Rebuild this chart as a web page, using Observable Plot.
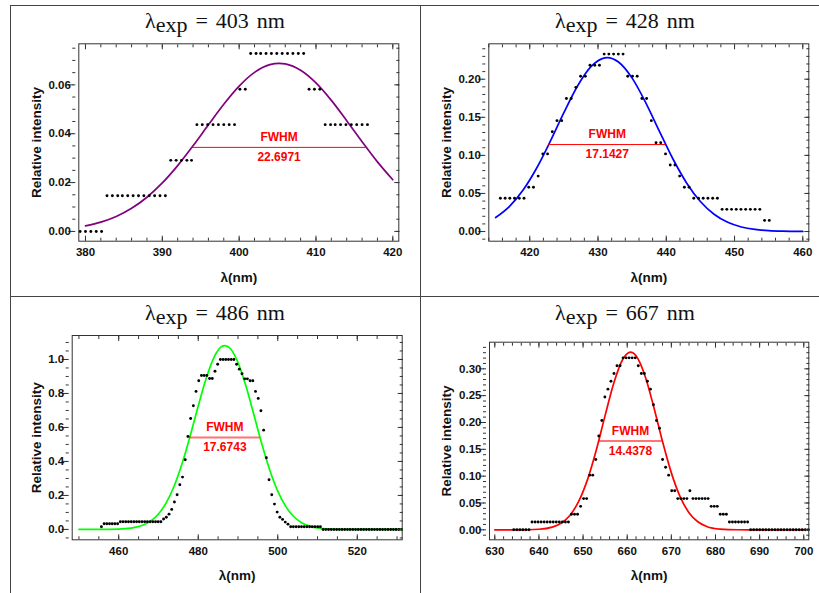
<!DOCTYPE html>
<html><head><meta charset="utf-8">
<script src="https://cdn.jsdelivr.net/npm/d3@7"></script>
<script src="https://cdn.jsdelivr.net/npm/@observablehq/plot@0.6"></script>
<style>
html,body{margin:0;padding:0;background:#fff;overflow:hidden;}
#root{position:relative;width:819px;height:593px;overflow:hidden;background:#fff;}
.cell{position:absolute;width:410px;}
.cell svg{position:absolute;left:0;top:0;}
.title{position:absolute;left:0;width:410px;text-align:center;font-family:"Liberation Serif","Times New Roman",serif;font-size:22px;color:#111;white-space:nowrap;line-height:1;z-index:2;}
.sub{position:relative;top:4px;}
.eq{margin:0 8px;}
.unit{margin-left:8px;}
.bline{position:absolute;background:#444;}
</style></head><body><div id="root"></div>
<script>
// ---------- data ----------
const titleWavelengths = ["403", "428", "486", "667"];
const fwhmValues = ["22.6971", "17.1427", "17.6743", "14.4378"];
const lineColors = ["#800080", "#0000ff", "#00ff00", "#ff0000"];

// Panel 1 (403 nm)
const p1DotX = [379.3,380.0,380.7,381.4,382.1,382.8,383.5,384.2,384.8,385.5,386.2,386.9,387.6,388.3,389.0,389.7,390.4,391.1,391.8,392.5,393.2,393.8,394.5,395.2,395.9,396.6,397.3,398.0,398.7,399.4,400.1,400.8,401.5,402.2,402.8,403.5,404.2,404.9,405.6,406.3,407.0,407.7,408.4,409.1,409.8,410.5,411.2,411.9,412.5,413.2,413.9,414.6,415.3,416.0,416.7];
const p1DotY = [0,0,0,0,0,
  0.0146,0.0146,0.0146,0.0146,0.0146,0.0146,0.0146,0.0146,0.0146,0.0146,0.0146,0.0146,
  0.0291,0.0291,0.0291,0.0291,0.0291,
  0.0437,0.0437,0.0437,0.0437,0.0437,0.0437,0.0437,0.0437,
  0.0582,0.0582,
  0.0728,0.0728,0.0728,0.0728,0.0728,0.0728,0.0728,0.0728,0.0728,0.0728,0.0728,
  0.0582,0.0582,0.0582,
  0.0437,0.0437,0.0437,0.0437,0.0437,0.0437,0.0437,0.0437,0.0437];
const p1CurveX = [380,382,384,386,388,390,392,394,396,398,400,402,404,405.2,406,408,410,412,414,416,418,420];
const p1CurveY = [0.00226,0.0038,0.00612,0.00946,0.0140,0.01984,0.02694,0.03503,0.04363,0.05205,0.05948,0.06511,0.06827,0.0688,0.06856,0.06596,0.06078,0.05364,0.04535,0.03673,0.02848,0.02116];
const p1Fwhm = {x1: 393.85, x2: 416.55, y: 0.0344};
const p1XTicks = [380, 390, 400, 410, 420];
const p1YTicks = [0, 0.02, 0.04, 0.06];

// Panel 2 (428 nm)
const p2DotX = [415.70,416.39,417.08,417.77,418.46,419.16,419.85,420.54,421.23,421.92,422.61,423.30,423.99,424.68,425.37,426.07,426.76,427.45,428.14,428.83,429.52,430.21,430.90,431.59,432.28,432.98,433.67,434.36,435.05,435.74,436.43,437.12,437.81,438.50,439.19,439.89,440.58,441.27,441.96,442.65,443.34,444.03,444.72,445.41,446.10,446.80,447.49,448.18,448.87,449.56,450.25,450.94,451.63,452.32,453.01,453.71,454.40,455.09];
const p2DotY = [0.0437,0.0437,0.0437,0.0437,0.0437,0.0437,
  0.0582,0.0582,0.0728,0.1019,0.1019,0.1310,0.1456,0.1456,0.1747,0.1747,0.1893,0.2038,0.2038,
  0.2184,0.2184,0.2184,0.2330,0.2330,0.2330,0.2330,0.2330,
  0.2038,0.2038,0.2038,0.1747,0.1747,0.1456,0.1165,0.1165,0.1019,0.0874,0.0874,0.0728,0.0582,0.0582,
  0.0437,0.0437,0.0437,0.0437,0.0437,0.0437,
  0.0291,0.0291,0.0291,0.0291,0.0291,0.0291,0.0291,0.0291,0.0291,
  0.0146,0.0146];
const p2CurveX = [415,417,419,421,423,425,427,429,431,431.35,433,435,437,439,441,443,445,447,449,451,453,455,457,460];
const p2CurveY = [0.01834,0.03273,0.05418,0.08314,0.1183,0.1561,0.1911,0.2168,0.2281,0.2284,0.2226,0.2014,0.1690,0.1315,0.09488,0.0635,0.03938,0.02266,0.01208,0.00598,0.00274,0.00117,0.00046,0.0001];
const p2Fwhm = {x1: 422.78, x2: 439.92, y: 0.1142};
const p2XTicks = [420, 430, 440, 450, 460];
const p2YTicks = [0, 0.05, 0.10, 0.15, 0.20];

// Panel 3 (486 nm)
const p3DotX = [455.65,456.33,457.01,457.69,458.37,459.05,459.73,460.41,461.09,461.77,462.45,463.13,463.81,464.49,465.17,465.85,466.53,467.21,467.89,468.57,469.25,469.93,470.61,471.29,471.97,472.65,473.33,474.01,474.69,475.37,476.05,476.73,477.41,478.09,478.77,479.45,480.13,480.81,481.49,482.17,482.85,483.53,484.21,484.89,485.57,486.25,486.93,487.61,488.29,488.97,489.65,490.33,491.01,491.69,492.37,493.05,493.73,494.41,495.09,495.77,496.45,497.13,497.81,498.49,499.17,499.85,500.53,501.21,501.89,502.57,503.25,503.93,504.61,505.29,505.97,506.65,507.33,508.01,508.69,509.37,510.05,510.73,511.41,512.09,512.77,513.45,514.13,514.81,515.49,516.17,516.85,517.53,518.21,518.89,519.57,520.25,520.93,521.61,522.29,522.97,523.65,524.33,525.01,525.69,526.37,527.05,527.73,528.41,529.09,529.77,530.45,531.13];
const p3DotY = [0.016,
  0.033,0.033,0.033,0.033,0.033,0.033,
  0.045,0.045,0.045,0.045,0.045,0.045,0.045,0.045,0.045,0.045,0.045,0.045,0.045,0.045,0.045,0.045,
  0.061,0.072,0.090,0.118,0.161,0.204,0.263,0.308,0.410,0.547,0.653,0.728,0.812,0.875,
  0.906,0.906,0.906,0.888,0.888,0.931,0.972,
  1.0,1.0,1.0,1.0,1.0,1.0,
  0.972,0.943,0.916,0.886,0.886,0.875,0.875,
  0.812,0.771,0.698,0.584,0.422,0.292,0.204,0.149,0.102,0.072,0.059,0.043,0.031,
  0.016,0.016,0.016,0.016,0.016,0.016,0.016,0.016,0.016,0.016,0.016,0.016,
  0,0,0,0,0,0,0,0,0,0,0,0,0,0,0,0,0,0,0,0,0,0,0,0,0,0,0,0,0,0];
const p3CurveX = [450,455,460,463,466,468,470,472,474,476,478,480,482,484,486,486.7,488,490,492,494,496,498,500,502,504,506,508,510,513,517,522,531];
const p3CurveY = [0,0.00015,0.0019,0.0074,0.0241,0.0486,0.0910,0.1590,0.2585,0.3917,0.5527,0.7264,0.8893,1.0142,1.0773,1.082,1.0659,0.9823,0.8433,0.6742,0.5022,0.3484,0.2251,0.1355,0.0760,0.0397,0.0193,0.0087,0.0023,0.0003,0,0];
const p3Fwhm = {x1: 477.86, x2: 495.54, y: 0.541};
const p3XTicks = [460, 480, 500, 520];
const p3YTicks = [0, 0.2, 0.4, 0.6, 0.8, 1.0];

// Panel 4 (667 nm)
const p4DotX = [634.30,634.99,635.68,636.36,637.05,637.74,638.43,639.12,639.80,640.49,641.18,641.87,642.56,643.24,643.93,644.62,645.31,646.00,646.68,647.37,648.06,648.75,649.44,650.12,650.81,651.50,652.19,652.88,653.56,654.25,654.94,655.63,656.32,657.00,657.69,658.38,659.07,659.76,660.44,661.13,661.82,662.51,663.20,663.88,664.57,665.26,665.95,666.64,667.32,668.01,668.70,669.39,670.08,670.76,671.45,672.14,672.83,673.52,674.20,674.89,675.58,676.27,676.96,677.64,678.33,679.02,679.71,680.40,681.08,681.77,682.46,683.15,683.84,684.52,685.21,685.90,686.59,687.28,687.96,688.65,689.34,690.03,690.72,691.40,692.09,692.78,693.47,694.16,694.84,695.53,696.22,696.91,697.60,698.28,698.97,699.66,700.35,701.04];
const p4DotY = [0,0,0,0,0,0,
  0.0146,0.0146,0.0146,0.0146,0.0146,0.0146,0.0146,0.0146,0.0146,0.0146,0.0146,0.0146,0.0146,
  0.0291,0.0291,0.0291,0.0437,0.0582,0.0582,0.1019,0.1019,0.1310,0.1747,0.2038,0.2475,0.2621,0.2767,0.2912,
  0.3058,0.3058,0.3204,0.3204,0.3204,0.3204,0.3204,0.3058,0.2912,0.2912,0.2767,0.2621,0.2330,0.2038,0.1893,
  0.1310,0.1165,0.1019,0.0728,0.0728,0.0582,0.0582,0.0582,0.0582,0.0728,
  0.0582,0.0582,0.0582,0.0582,0.0582,0.0582,0.0437,0.0437,0.0437,0.0291,0.0291,0.0291,
  0.0146,0.0146,0.0146,0.0146,0.0146,0.0146,0.0146,
  0,0,0,0,0,0,0,0,0,0,0,0,0,0,0,0,0,0,0,0];
const p4CurveX = [630,635,640,643,645,647,649,651,653,655,657,659,660.75,662,664,666,668,670,672,674,676,678,681,685,690,700];
const p4CurveY = [0,0.00005,0.0011,0.0050,0.0122,0.0268,0.0528,0.0935,0.1489,0.2132,0.2745,0.3178,0.331,0.3242,0.2876,0.2294,0.1645,0.1061,0.0615,0.0320,0.0150,0.0063,0.0014,0.0001,0,0];
const p4Fwhm = {x1: 653.53, x2: 667.97, y: 0.1655};
const p4XTicks = [630, 640, 650, 660, 670, 680, 690, 700];
const p4YTicks = [0, 0.05, 0.10, 0.15, 0.20, 0.25, 0.30];

const xLabel = "λ(nm)";
const yLabel = "Relative intensity";

// ---------- layout / drawing ----------
const panels = [
  {left: 10, top: 5, height: 291, m: [38.3, 21.7, 55.3, 68.3], xDomain: [379.13, 420.78], yDomain: [-0.004, 0.0768],
   dotX: p1DotX, dotY: p1DotY, curveX: p1CurveX, curveY: p1CurveY, fwhm: p1Fwhm, xTicks: p1XTicks, yTicks: p1YTicks,
   xMinorStep: 2, yMinorStep: 0.005, yFormat: d3.format(".2f"), yLabelDx: -42, thick: false, titleTop: 5},
  {left: 420, top: 5, height: 291, m: [38.3, 21.7, 55.3, 68.3], xDomain: [414.0, 460.88], yDomain: [-0.0127, 0.2465],
   dotX: p2DotX, dotY: p2DotY, curveX: p2CurveX, curveY: p2CurveY, fwhm: p2Fwhm, xTicks: p2XTicks, yTicks: p2YTicks,
   xMinorStep: 2, yMinorStep: 0.01, yFormat: d3.format(".2f"), yLabelDx: -42, thick: false, titleTop: 5},
  {left: 10, top: 296, height: 297, m: [39, 18.3, 53.7, 61.7], xDomain: [448.3, 531.3], yDomain: [-0.061, 1.141],
   dotX: p3DotX, dotY: p3DotY, curveX: p3CurveX, curveY: p3CurveY, fwhm: p3Fwhm, xTicks: p3XTicks, yTicks: p3YTicks,
   xMinorStep: 5, yMinorStep: 0.05, yFormat: d3.format(".1f"), yLabelDx: -36, thick: true, titleTop: 5.5},
  {left: 420, top: 296, height: 297, m: [45.7, 21.7, 53.7, 69], xDomain: [628.8, 701.14], yDomain: [-0.0186, 0.3496],
   dotX: p4DotX, dotY: p4DotY, curveX: p4CurveX, curveY: p4CurveY, fwhm: p4Fwhm, xTicks: p4XTicks, yTicks: p4YTicks,
   xMinorStep: 2, yMinorStep: 0.01, yFormat: d3.format(".2f"), yLabelDx: -43, thick: true, titleTop: 5.5}
];

function minorTicks([a, b], step) {
  const i0 = Math.ceil(a / step - 1e-6), i1 = Math.floor(b / step + 1e-6);
  return d3.range(i0, i1 + 1).map(i => +(i * step).toFixed(6));
}

const FONT = "'Liberation Sans', Arial, sans-serif";
const TICK = "#333";
const WIDTH = 410;

function makePlot(p, idx) {
  const dots = p.dotX.map((x, i) => ({x, y: p.dotY[i]}));
  const curve = p.curveX.map((x, i) => ({x, y: p.curveY[i]}));
  const inX = v => v >= p.xDomain[0] && v <= p.xDomain[1];
  const inY = v => v >= p.yDomain[0] && v <= p.yDomain[1];
  const xMaj = p.xTicks.filter(inX), yMaj = p.yTicks.filter(inY);
  const xMin = minorTicks(p.xDomain, p.xMinorStep), yMin = minorTicks(p.yDomain, p.yMinorStep);
  const fw = p.thick ? {stroke: "#ff0000", strokeWidth: 2, strokeOpacity: 0.55} : {stroke: "#ff0000", strokeWidth: 1};
  const mid = d => (d.x1 + d.x2) / 2;
  const innerW = WIDTH - p.m[1] - p.m[3];
  const tickMarks = [];
  for (const [anchor, s] of [["bottom", -1], ["top", 1]]) {
    tickMarks.push(Plot.axisX(xMaj, {anchor, tickSize: 5, dy: 5 * s, fill: "none", stroke: TICK, label: null}));
    tickMarks.push(Plot.axisX(xMin, {anchor, tickSize: 3, dy: 3 * s, fill: "none", stroke: TICK, label: null}));
  }
  for (const anchor of ["left", "right"]) {
    tickMarks.push(Plot.axisY(yMaj, {anchor, tickSize: 5, dx: -5, fill: "none", stroke: TICK, label: null}));
    tickMarks.push(Plot.axisY(yMin, {anchor, tickSize: 3, dx: -3, fill: "none", stroke: TICK, label: null}));
  }
  return Plot.plot({
    width: WIDTH, height: p.height,
    marginTop: p.m[0], marginRight: p.m[1], marginBottom: p.m[2], marginLeft: p.m[3],
    x: {domain: p.xDomain}, y: {domain: p.yDomain},
    style: {fontFamily: FONT, background: "transparent", overflow: "visible"},
    marks: [
      Plot.line(curve, {x: "x", y: "y", stroke: lineColors[idx], strokeWidth: 1.7, curve: "monotone-x"}),
      Plot.ruleY([p.fwhm], {x1: "x1", x2: "x2", y: "y", ...fw}),
      Plot.dot(dots, {x: "x", y: "y", r: 1.45, fill: "#000", stroke: null}),
      Plot.text([p.fwhm], {x: mid, y: "y", text: () => "FWHM", dy: -10, fill: "#ff0000", fontSize: 12, fontWeight: "bold"}),
      Plot.text([p.fwhm], {x: mid, y: "y", text: () => fwhmValues[idx], dy: 10, fill: "#ff0000", fontSize: 12, fontWeight: "bold"}),
      Plot.frame({stroke: TICK, strokeWidth: 1}),
      ...tickMarks,
      Plot.axisX(xMaj, {anchor: "bottom", tickSize: 0, tickPadding: 7, fontSize: 11.5, fontWeight: "bold", fill: "#111", label: null, tickFormat: d => String(d)}),
      Plot.axisY(yMaj, {anchor: "left", tickSize: 0, tickPadding: 8, fontSize: 11.5, fontWeight: "bold", fill: "#111", label: null, tickFormat: p.yFormat}),
      Plot.text([xLabel], {text: d => d, frameAnchor: "bottom", dy: 36, lineAnchor: "middle", fontSize: 13.5, fontWeight: "bold", fill: "#111"}),
      Plot.text([yLabel], {text: d => d, frameAnchor: "middle", dx: -innerW / 2 + p.yLabelDx, rotate: -90, lineAnchor: "middle", fontSize: 13.5, fontWeight: "bold", fill: "#111"})
    ]
  });
}

const root = document.getElementById("root");
panels.forEach((p, i) => {
  const cell = document.createElement("div");
  cell.className = "cell";
  cell.style.left = p.left + "px";
  cell.style.top = p.top + "px";
  cell.style.height = p.height + "px";
  cell.appendChild(makePlot(p, i));
  const t = document.createElement("div");
  t.className = "title";
  t.style.top = p.titleTop + "px";
  t.innerHTML = `<span>λ</span><span class="sub">exp</span><span class="eq">=</span><span>${titleWavelengths[i]}</span><span class="unit">nm</span>`;
  cell.appendChild(t);
  root.appendChild(cell);
});

// frame lines of the table
[
  {left: 10, top: 4.5, width: 809, height: 1},
  {left: 9.5, top: 5, width: 1, height: 588},
  {left: 419.5, top: 5, width: 1.5, height: 588},
  {left: 10, top: 295.5, width: 809, height: 1.2}
].forEach(b => {
  const d = document.createElement("div");
  d.className = "bline";
  Object.assign(d.style, {left: b.left + "px", top: b.top + "px", width: b.width + "px", height: b.height + "px"});
  root.appendChild(d);
});
</script></body></html>
